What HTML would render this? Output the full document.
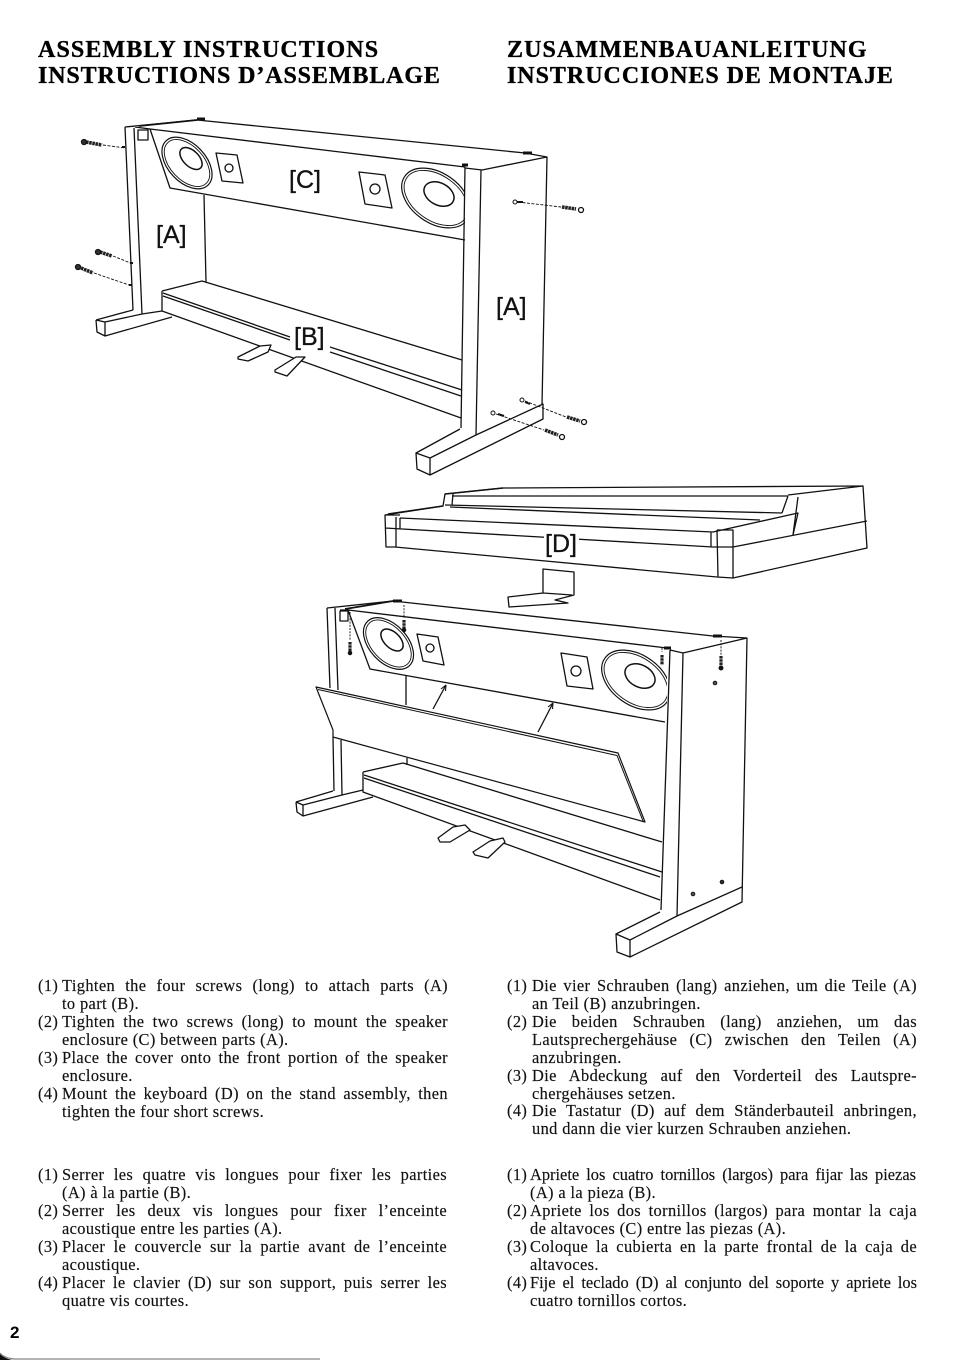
<!DOCTYPE html>
<html><head><meta charset="utf-8">
<style>
html,body{margin:0;padding:0;background:#fff}
#p{position:relative;width:954px;height:1360px;overflow:hidden;background:#fff;font-family:"Liberation Serif",serif;color:#111}
h1{position:absolute;margin:0;font:bold 24px/26px "Liberation Serif",serif;white-space:nowrap;color:#000;-webkit-text-stroke:.35px #000}
.l{position:absolute;font-size:16.4px;line-height:18px;letter-spacing:.38px;white-space:nowrap;-webkit-text-stroke:.15px #111}
.j{text-align:justify;text-align-last:justify}
svg{position:absolute;left:0;top:0}
.lb{font:25px "Liberation Sans",sans-serif;fill:#111;stroke:#111;stroke-width:.3}
</style></head><body><div id="p">
<h1 style="left:38px;top:37px;letter-spacing:1.12px">ASSEMBLY INSTRUCTIONS</h1>
<h1 style="left:38px;top:63px;letter-spacing:.88px">INSTRUCTIONS D’ASSEMBLAGE</h1>
<h1 style="left:507px;top:37px;letter-spacing:1.1px">ZUSAMMENBAUANLEITUNG</h1>
<h1 style="left:507px;top:63px;letter-spacing:.97px">INSTRUCCIONES DE MONTAJE</h1>

<svg width="954" height="1360" viewBox="0 0 954 1360" fill="none" stroke="#111" stroke-width="1.3" stroke-linejoin="round">
<defs>
<clipPath id="c1"><rect x="140" y="120" width="325" height="130"/></clipPath>
<clipPath id="c2"><rect x="340" y="600" width="327" height="130"/></clipPath>
</defs>
<!-- TOP DIAGRAM -->
<g>
<path d="M125 127L133 310M134 128L142 314M125 127L197 120L525 153M138 130h10v10h-10zM135 127L150 129L340 152L465 167M150 129L170 188L465 240M204 195L206 282"/>
<path d="M139 126L197 120" stroke-width="1.7"/>
<ellipse cx="187" cy="163" rx="30.5" ry="19" transform="rotate(47 187 163)" stroke-width="1.2"/>
<ellipse cx="187" cy="163" rx="28" ry="16.8" transform="rotate(47 187 163)" stroke-width=".9"/>
<ellipse cx="191" cy="158.5" rx="13.5" ry="7.8" transform="rotate(44 191 158.5)" stroke-width="1.5"/>
<path d="M216 153L237 155L243 183L222 181Z"/><circle cx="229" cy="168" r="4"/>
<path d="M359 172L385 175L392 208L365 204Z"/><circle cx="375" cy="189" r="5"/>
<g clip-path="url(#c1)">
<ellipse cx="436" cy="198" rx="38" ry="25" transform="rotate(35 436 198)" stroke-width="1.2"/>
<ellipse cx="436" cy="198" rx="35.5" ry="22.6" transform="rotate(35 436 198)" stroke-width=".9"/>
<ellipse cx="439" cy="194" rx="16" ry="11" transform="rotate(28 439 194)" stroke-width="1.5"/>
</g>
<path d="M465 167L461 428M481 170L476 435M465 168L482 170L547 157L542 405M525 153L547 157M476 435L543 404L543 419L430 475L417 469L416 453L460 429M416 453L430 458L476 435M430 458V475"/>
<path d="M162 291L202 281L462 360M162 291V311L461 418M163 293L290 337M163 296L290 340M330 347L462 390M330 352L461 396"/>
<path d="M96 320L133 310M96 320L97 332L105 336L172 317M105 322L142 314L162 311M96 320L105 322V336"/>
<path d="M238 357L260 346L271 345L268 352L248 361L238 359ZM275 370L296 357L305 357L287 376L275 372Z" fill="#fff"/>
<g stroke-width="3.6" stroke-dasharray="2.6 .6" stroke="#222"><path d="M86 142L102 145M100 252L112 256M81 268L93 273M562 207L576 209M567 417L580 421M545 430L558 435"/></g>
<circle cx="84" cy="142" r="2.5" fill="#333"/><circle cx="98" cy="252" r="2.5" fill="#333"/><circle cx="78" cy="267" r="2.5" fill="#333"/>
<circle cx="581" cy="210" r="2.5"/><circle cx="584" cy="422" r="2.5"/><circle cx="562" cy="437" r="2.5"/>
<circle cx="515" cy="202" r="2" stroke-width="1"/><circle cx="522" cy="400" r="2" stroke-width="1"/><circle cx="493" cy="413" r="2" stroke-width="1"/>
<g stroke-width=".9" stroke-dasharray="3 1.5"><path d="M103 145L125 148M113 256L133 264M94 273L132 286M518 202L561 207M525 401L566 417M496 414L544 430"/></g>
<path d="M523 202l-6 0M530 404l-5-2M504 416l-6-2" stroke-width="2"/>
<path d="M122 147h3M130 263h3M129 285h3" stroke-width="2"/>
<path d="M197 119h8M523 153h9M462 165h6" stroke-width="3"/>
</g>
<!-- KEYBOARD -->
<g>
<path d="M385 515L386 547L395 547L717 577L733 578L867 548L863 486L503 488L445 494L443 506L385 515ZM453 494L452 505M452 496L788 496M445 505L782 513M450 507L760 520M400 518L713 532L798 513L793 535M798 497L793 535M788 496L782 513M788 495L863 486M385 528L713 547H733L867 521M717 530H733V578M717 530L718 577M711 532V547M396 517V547M400 518V529M385 515H400"/>
<path d="M445 494L503 488M388 514L443 506" stroke-width="1.5"/>
<path d="M543 569L574 572V595L555 600L568 603L509 607L508 597L543 593ZM543 593L572 595" fill="#fff"/>
</g>
<!-- BOTTOM DIAGRAM -->
<g>
<path d="M327 608L330 688M335 608L338 690M327 608L393 601L713 636M340 611h8v10h-8zM340 610L348 610L667 648M348 610L370 669L665 722M406 675V705M407 758V765"/>
<path d="M345 609L393 601" stroke-width="1.7"/>
<ellipse cx="388.5" cy="643.5" rx="30.5" ry="19" transform="rotate(47 388.5 643.5)" stroke-width="1.2"/>
<ellipse cx="388.5" cy="643.5" rx="28" ry="16.8" transform="rotate(47 388.5 643.5)" stroke-width=".9"/>
<ellipse cx="392" cy="640" rx="13.5" ry="7.8" transform="rotate(44 392 640)" stroke-width="1.5"/>
<path d="M417 634L438 637L444 665L423 661Z"/><circle cx="430" cy="648" r="4"/>
<path d="M561 653L587 657L593 689L567 686Z"/><circle cx="576" cy="671" r="5"/>
<g clip-path="url(#c2)">
<ellipse cx="636" cy="680" rx="38" ry="25" transform="rotate(35 636 680)" stroke-width="1.2"/>
<ellipse cx="636" cy="680" rx="35.5" ry="22.6" transform="rotate(35 636 680)" stroke-width=".9"/>
<ellipse cx="640" cy="676" rx="16" ry="11" transform="rotate(28 640 676)" stroke-width="1.5"/>
</g>
<path d="M316 687L618 753L645 822L333 737L333 730Z" fill="#fff" stroke-width="1.2"/>
<path d="M318 689.5L617 755.5L643 821" stroke-width="1"/>
<path d="M333 737L334 791M341 740L342 795M403 763L662 842M670 650L661 910M683 653L677 916M670 650L683 653L747 638L742 902L630 957L617 952L616 934L660 912M713 636L747 638M677 916L742 887M616 934L630 940L677 916M630 940V957"/>
<path d="M363 772L403 763M363 772V792L660 900M364 775L662 872M364 778L660 877"/>
<path d="M296 802L333 791M296 802L297 812L303 816L373 797M303 805L342 795L363 790M296 802L303 805V816"/>
<path d="M438 838L453 827L465 825L470 830L450 842L440 842ZM473 852L490 841L503 838L505 842L488 858L475 855Z" fill="#fff"/>
<path d="M433 709L446 685M538 732L553 703"/>
<path d="M446 685l-5 4M446 685l-.5 6M553 703l-5 4M553 703l-.5 6" stroke-width="1.1"/>
<g stroke-width=".9" stroke-dasharray="2 1.2"><path d="M350 612V640M404 605V618M662 648V652M721 640V655"/></g>
<g stroke-width="3.2" stroke-dasharray="2.6 .6" stroke="#222"><path d="M350 642V652M404 620V630M662 655V665M721 656V667"/></g>
<circle cx="350" cy="653" r="1.6" fill="#111"/><circle cx="404" cy="630" r="1.6" fill="#111"/><circle cx="721" cy="668" r="1.8" fill="#111"/>
<circle cx="715" cy="683" r="1.8" fill="#555" stroke-width="1"/><circle cx="693" cy="894" r="1.8" fill="#555" stroke-width="1"/><circle cx="722" cy="882" r="1.8" fill="#333" stroke-width="1"/>
<path d="M393 601h9M713 636h9M664 648h7" stroke-width="3"/>
</g>
<!-- LABELS -->
<rect x="293" y="325" width="34" height="24" fill="#fff" stroke="none"/>
<rect x="544" y="530" width="35" height="25" fill="#fff" stroke="none"/>
<g>
<text class="lb" x="289" y="188">[C]</text>
<text class="lb" x="156" y="243">[A]</text>
<text class="lb" x="496" y="315">[A]</text>
<text class="lb" x="294" y="345">[B]</text>
<text class="lb" x="545" y="552">[D]</text>
</g>
<!-- page edge -->
<path d="M0 1353Q4 1358 14 1359H320" stroke="#888" stroke-width="1.2"/>
<path d="M0 1354Q4 1358 12 1360H0Z" fill="#111" stroke="none"/>
</svg>

<div class="l" style="left:38px;top:977px">(1)</div><div class="l j" style="left:62px;top:977px;width:386px">Tighten the four screws (long) to attach parts (A)</div>
<div class="l" style="left:62px;top:995px">to part (B).</div>
<div class="l" style="left:38px;top:1013px">(2)</div><div class="l j" style="left:62px;top:1013px;width:386px">Tighten the two screws (long) to mount the speaker</div>
<div class="l" style="left:62px;top:1031px">enclosure (C) between parts (A).</div>
<div class="l" style="left:38px;top:1049px">(3)</div><div class="l j" style="left:62px;top:1049px;width:386px">Place the cover onto the front portion of the speaker</div>
<div class="l" style="left:62px;top:1067px">enclosure.</div>
<div class="l" style="left:38px;top:1085px">(4)</div><div class="l j" style="left:62px;top:1085px;width:386px">Mount the keyboard (D) on the stand assembly, then</div>
<div class="l" style="left:62px;top:1103px">tighten the four short screws.</div>

<div class="l" style="left:38px;top:1166px">(1)</div><div class="l j" style="left:62px;top:1166px;width:385px">Serrer les quatre vis longues pour fixer les parties</div>
<div class="l" style="left:62px;top:1184px">(A) à la partie (B).</div>
<div class="l" style="left:38px;top:1202px">(2)</div><div class="l j" style="left:62px;top:1202px;width:385px">Serrer les deux vis longues pour fixer l’enceinte</div>
<div class="l" style="left:62px;top:1220px">acoustique entre les parties (A).</div>
<div class="l" style="left:38px;top:1238px">(3)</div><div class="l j" style="left:62px;top:1238px;width:385px">Placer le couvercle sur la partie avant de l’enceinte</div>
<div class="l" style="left:62px;top:1256px">acoustique.</div>
<div class="l" style="left:38px;top:1274px">(4)</div><div class="l j" style="left:62px;top:1274px;width:385px">Placer le clavier (D) sur son support, puis serrer les</div>
<div class="l" style="left:62px;top:1292px">quatre vis courtes.</div>

<div class="l" style="left:507px;top:977px">(1)</div><div class="l j" style="left:532px;top:977px;width:385px">Die vier Schrauben (lang) anziehen, um die Teile (A)</div>
<div class="l" style="left:532px;top:995px">an Teil (B) anzubringen.</div>
<div class="l" style="left:507px;top:1013px">(2)</div><div class="l j" style="left:532px;top:1013px;width:385px">Die beiden Schrauben (lang) anziehen, um das</div>
<div class="l j" style="left:532px;top:1031px;width:385px">Lautsprechergehäuse (C) zwischen den Teilen (A)</div>
<div class="l" style="left:532px;top:1049px">anzubringen.</div>
<div class="l" style="left:507px;top:1067px">(3)</div><div class="l j" style="left:532px;top:1067px;width:385px">Die Abdeckung auf den Vorderteil des Lautspre-</div>
<div class="l" style="left:532px;top:1085px">chergehäuses setzen.</div>
<div class="l" style="left:507px;top:1102px">(4)</div><div class="l j" style="left:532px;top:1102px;width:385px">Die Tastatur (D) auf dem Ständerbauteil anbringen,</div>
<div class="l" style="left:532px;top:1120px">und dann die vier kurzen Schrauben anziehen.</div>

<div class="l" style="left:507px;top:1166px">(1)</div><div class="l j" style="left:530px;top:1166px;width:386px;letter-spacing:0">Apriete los cuatro tornillos (largos) para fijar las piezas</div>
<div class="l" style="left:530px;top:1184px">(A) a la pieza (B).</div>
<div class="l" style="left:507px;top:1202px">(2)</div><div class="l j" style="left:530px;top:1202px;width:387px">Apriete los dos tornillos (largos) para montar la caja</div>
<div class="l" style="left:530px;top:1220px">de altavoces (C) entre las piezas (A).</div>
<div class="l" style="left:507px;top:1238px">(3)</div><div class="l j" style="left:530px;top:1238px;width:387px">Coloque la cubierta en la parte frontal de la caja de</div>
<div class="l" style="left:530px;top:1256px">altavoces.</div>
<div class="l" style="left:507px;top:1274px">(4)</div><div class="l j" style="left:530px;top:1274px;width:387px;letter-spacing:0">Fije el teclado (D) al conjunto del soporte y apriete los</div>
<div class="l" style="left:530px;top:1292px">cuatro tornillos cortos.</div>

<div style="position:absolute;left:10px;top:1323px;font:bold 17px/20px 'Liberation Sans',sans-serif;color:#000">2</div>
</div></body></html>
